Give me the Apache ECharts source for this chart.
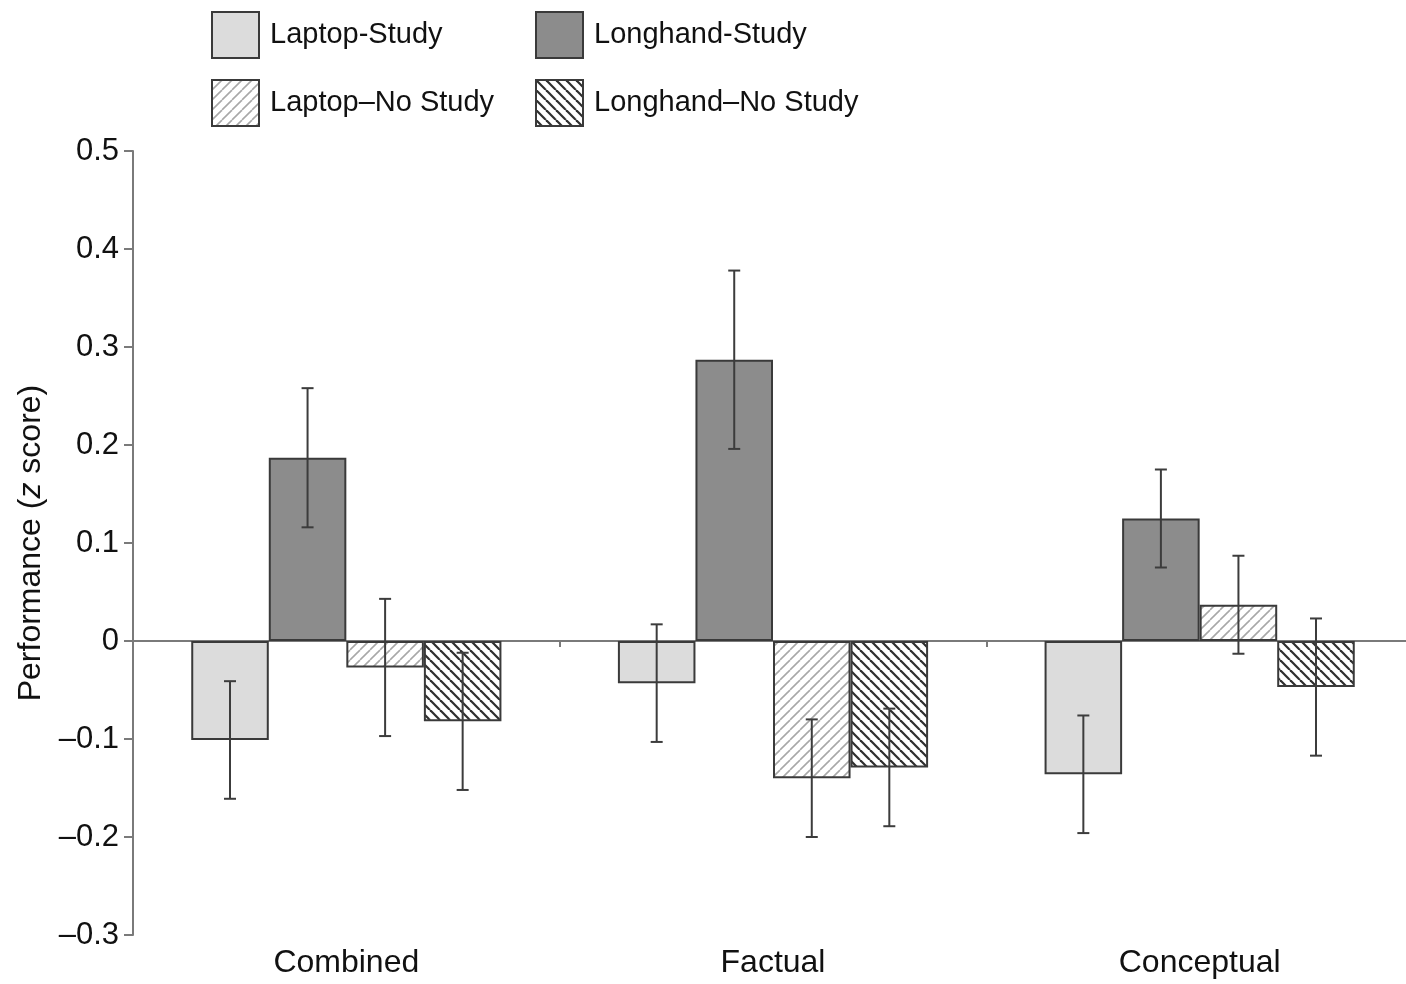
<!DOCTYPE html>
<html><head><meta charset="utf-8">
<script src="https://cdn.jsdelivr.net/npm/echarts@6/dist/echarts.min.js"></script>
<style>html,body{margin:0;padding:0;background:#fff}#c{width:1406px;height:984px}</style>
</head><body><div id="c"></div>
<script>
const categories = ['Combined', 'Factual', 'Conceptual'];
const seriesNames = ['Laptop-Study', 'Longhand-Study', 'Laptop\u2013No Study', 'Longhand\u2013No Study'];
const laptopStudy = [-0.101, -0.043, -0.136];
const longhandStudy = [0.187, 0.287, 0.125];
const laptopNoStudy = [-0.027, -0.140, 0.037];
const longhandNoStudy = [-0.082, -0.129, -0.047];
const laptopStudyErr = [0.060, 0.060, 0.060];
const longhandStudyErr = [0.071, 0.091, 0.050];
const laptopNoStudyErr = [0.070, 0.060, 0.050];
const longhandNoStudyErr = [0.070, 0.060, 0.070];
const yTicks = { min: -0.3, max: 0.5, step: 0.1 };

function hatch(dir, color, lw, s) {
  const c = document.createElement('canvas');
  c.width = s; c.height = s;
  const g = c.getContext('2d');
  g.fillStyle = '#fff'; g.fillRect(0, 0, s, s);
  g.strokeStyle = color; g.lineWidth = lw;
  for (let k = -1; k <= 1; k++) {
    g.beginPath();
    if (dir === '/') { g.moveTo(k * s, s); g.lineTo(k * s + s, 0); }
    else { g.moveTo(k * s, 0); g.lineTo(k * s + s, s); }
    g.stroke();
  }
  return { image: c, repeat: 'repeat' };
}

const fills = [
  '#dcdcdc',
  '#8c8c8c',
  hatch('/', '#a8a8a8', 1.6, 10),
  hatch('\\', '#2e2e2e', 2.2, 10)
];
const values = [laptopStudy, longhandStudy, laptopNoStudy, longhandNoStudy];
const errs = [laptopStudyErr, longhandStudyErr, laptopNoStudyErr, longhandNoStudyErr];
const gapPct = 27.3;

const series = [];
values.forEach((v, i) => {
  series.push({
    name: seriesNames[i], type: 'bar', data: v,
    barGap: '0%', barCategoryGap: gapPct + '%',
    itemStyle: { color: fills[i], borderColor: '#3a3a3a', borderWidth: 2 },
    emphasis: { disabled: true }, z: 2
  });
});
values.forEach((v, i) => {
  series.push({
    type: 'custom', name: 'err' + i, z: 5,
    data: v.map((val, j) => [j, val - errs[i][j], val + errs[i][j]]),
    renderItem: function (params, api) {
      const catW = api.size([1, 0])[0];
      const bw = catW * (1 - gapPct / 100) / 4;
      const off = (i - 1.5) * bw;
      const lo = api.coord([api.value(0), api.value(1)]);
      const hi = api.coord([api.value(0), api.value(2)]);
      const x = lo[0] + off;
      const cap = 6;
      const st = { stroke: '#3c3c3c', lineWidth: 2 };
      return { type: 'group', children: [
        { type: 'line', shape: { x1: x, y1: lo[1], x2: x, y2: hi[1] }, style: st },
        { type: 'line', shape: { x1: x - cap, y1: lo[1], x2: x + cap, y2: lo[1] }, style: st },
        { type: 'line', shape: { x1: x - cap, y1: hi[1], x2: x + cap, y2: hi[1] }, style: st }
      ] };
    },
    silent: true
  });
});

const legendCommon = {
  orient: 'vertical', top: 6, itemWidth: 47, itemHeight: 46, itemGap: 20,
  icon: 'rect', selectedMode: false,
  textStyle: { fontFamily: 'Liberation Sans', fontSize: 29, color: '#111', padding: [0, 0, 0, 6] }
};

const chart = echarts.init(document.getElementById('c'), null, { renderer: 'canvas' });
chart.setOption({
  animation: false,
  backgroundColor: '#fff',
  legend: [
    Object.assign({ left: 206, data: [seriesNames[0], seriesNames[2]] }, legendCommon),
    Object.assign({ left: 530, data: [seriesNames[1], seriesNames[3]] }, legendCommon)
  ],
  grid: { left: 133, right: -7, top: 151, bottom: 49, containLabel: false, outerBoundsMode: 'none' },
  xAxis: [
    { type: 'category', data: categories, position: 'bottom',
      axisLine: { show: false, onZero: false }, axisTick: { show: false },
      axisLabel: { fontFamily: 'Liberation Sans', fontSize: 32, color: '#111', margin: 12 } },
    { type: 'category', data: categories, position: 'bottom',
      axisLine: { show: true, onZero: true, lineStyle: { color: '#7a7a7a', width: 2 } },
      axisTick: { show: true, inside: false, length: 6, lineStyle: { color: '#7a7a7a', width: 2 } },
      axisLabel: { show: false } }
  ],
  yAxis: {
    type: 'value', min: yTicks.min, max: yTicks.max, interval: yTicks.step,
    name: 'Performance ({i|z} score)', nameLocation: 'middle', nameRotate: 90, nameGap: 86,
    nameTextStyle: { fontFamily: 'Liberation Sans', fontSize: 32, color: '#111',
      rich: { i: { fontFamily: 'Liberation Sans', fontSize: 32, fontStyle: 'italic', color: '#111' } } },
    axisLine: { show: true, lineStyle: { color: '#7a7a7a', width: 2 } },
    axisTick: { show: true, length: 9, lineStyle: { color: '#7a7a7a', width: 2 } },
    splitLine: { show: false },
    axisLabel: { fontFamily: 'Liberation Sans', fontSize: 31, color: '#111', margin: 14,
      formatter: v => { const r = Math.round(v * 10) / 10; return r === 0 ? '0' : (r < 0 ? '\u2013' + Math.abs(r).toFixed(1) : r.toFixed(1)); } }
  },
  series: series
});
</script></body></html>
